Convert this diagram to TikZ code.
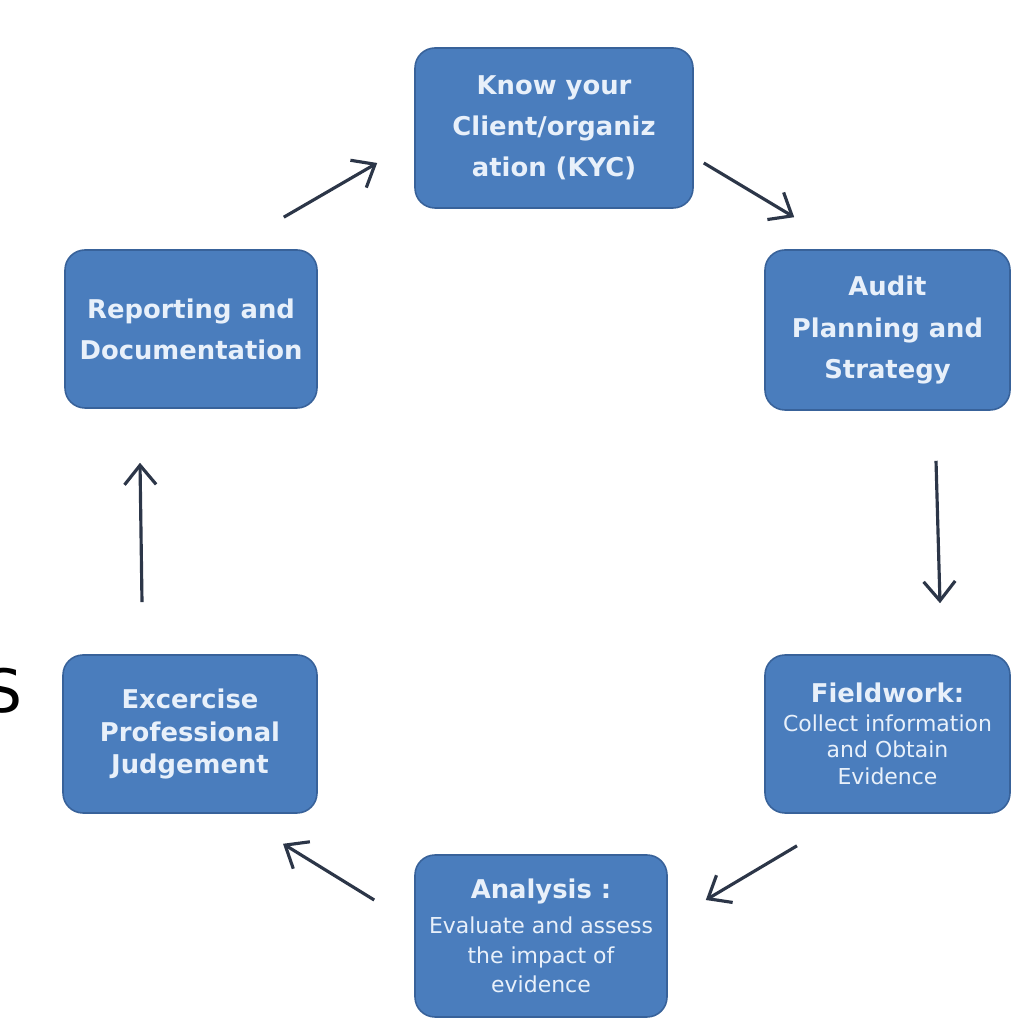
\documentclass[tikz,border=0pt]{standalone}
\usepackage{fontspec}
\setmainfont{DejaVu Sans}
\usetikzlibrary{arrows.meta}

\definecolor{boxfill}{RGB}{74,125,189}
\definecolor{boxline}{RGB}{56,98,154}
\definecolor{boxtext}{RGB}{232,240,250}
\definecolor{arrowcol}{RGB}{44,54,72}

\newcommand{\bigtitle}{\bfseries\fontsize{14.7}{17}\selectfont}

\begin{document}
\begin{tikzpicture}[
    stagebox/.style={draw=boxline, line width=0.9pt, fill=boxfill,
        rounded corners=0.4cm, text=boxtext, align=center, inner sep=0pt,
        font=\bfseries\fontsize{14.7}{23.4}\selectfont},
    cyclearrow/.style={draw=arrowcol, line width=1.8pt,
        -{Straight Barb[length=11pt,width=18pt,line width=1.8pt]}}
  ]
  \useasboundingbox (0,0) rectangle (20.24,20.36);

  % the six stages
  \node[stagebox, minimum width=5.56cm, minimum height=3.2cm] (kyc) at (11.08,17.80)
      {Know your\\Client/organiz\\ation (KYC)};
  \node[stagebox, minimum width=4.9cm, minimum height=3.2cm] (aud) at (17.75,13.76)
      {Audit\\Planning and\\Strategy};
  \node[stagebox, minimum width=4.9cm, minimum height=3.16cm,
        font=\mdseries\fontsize{12.5}{15.3}\selectfont] (fld) at (17.75,5.68)
      {{\bigtitle Fieldwork:}\\[1pt]Collect information\\and Obtain\\Evidence};
  \node[stagebox, minimum width=5.04cm, minimum height=3.24cm,
        font=\mdseries\fontsize{12.5}{17}\selectfont] (ana) at (10.82,1.64)
      {{\bigtitle Analysis :}\\[2.8pt]Evaluate and assess\\the impact of\\evidence};
  \node[stagebox, minimum width=5.08cm, minimum height=3.16cm,
        font=\bfseries\fontsize{14.7}{18.7}\selectfont] (exc) at (3.80,5.68)
      {Excercise\\Professional\\Judgement};
  \node[stagebox, minimum width=5.04cm, minimum height=3.16cm] (rep) at (3.82,13.78)
      {Reporting and\\Documentation};

  % stray letter cut by the left edge
  \node[anchor=east, inner sep=0pt, font=\fontsize{34}{34}\selectfont] (sletter) at (0.46,6.55) {S};

  % arrows round the cycle
  \draw[cyclearrow] ([shift={(-0.68,0.64)}]rep.north east) -- ([shift={(-0.74,-0.70)}]kyc.west);
  \draw[cyclearrow] ([shift={(0.2,-0.7)}]kyc.east) -- ([shift={(0.6,0.64)}]aud.north west);
  \draw[cyclearrow] ([shift={(0.97,-1.0)}]aud.south) -- ([shift={(1.05,1.02)}]fld.north);
  \draw[cyclearrow] ([shift={(-1.81,-0.64)}]fld.south) -- ([shift={(0.76,0.72)}]ana.east);
  \draw[cyclearrow] ([shift={(-0.8,0.72)}]ana.west) -- ([shift={(1.86,-0.6)}]exc.south);
  \draw[cyclearrow] ([shift={(-0.96,1.04)}]exc.north) -- ([shift={(-1.02,-1.08)}]rep.south);
\end{tikzpicture}
\end{document}
